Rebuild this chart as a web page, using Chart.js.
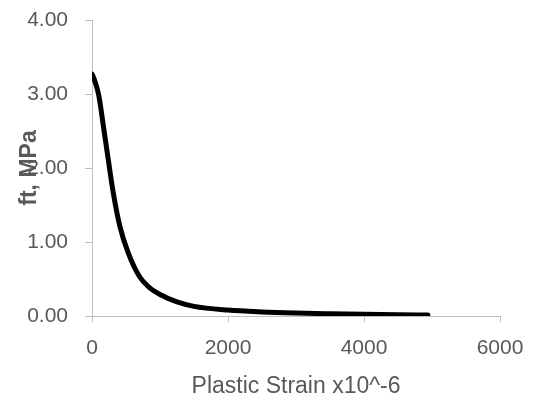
<!DOCTYPE html>
<html>
<head>
<meta charset="utf-8">
<script src="https://cdn.jsdelivr.net/npm/chart.js@4/dist/chart.umd.min.js"></script>
<style>
  html, body { margin: 0; padding: 0; background: #fff; }
  #wrap { width: 533px; height: 398px; }
</style>
</head>
<body>
<div id="wrap"><canvas id="c" width="533" height="398"></canvas></div>
<script>
const strain = [0, 40, 100, 170, 240, 310, 410, 530, 700, 850, 1000, 1250, 1500, 2000, 2500, 3000, 3500, 4000, 4500, 4940];
const ft = [3.27, 3.18, 2.98, 2.55, 2.11, 1.68, 1.21, 0.86, 0.53, 0.38, 0.29, 0.19, 0.13, 0.08, 0.055, 0.04, 0.03, 0.022, 0.016, 0.012];
const xTicks = [0, 2000, 4000, 6000];
const yTicks = [0, 1, 2, 3, 4];
const xTitle = 'Plastic Strain x10^-6';
const yTitle = 'ft, MPa';

const axisColor = '#bfbfbf';
const labelColor = '#595959';
const fontFamily = '"Liberation Sans", Arial, sans-serif';

new Chart(document.getElementById('c'), {
  type: 'line',
  data: {
    datasets: [{
      data: strain.map((x, i) => ({ x: x, y: ft[i] })),
      borderColor: '#000',
      borderWidth: 5,
      pointRadius: 0,
      cubicInterpolationMode: 'monotone',
      borderCapStyle: 'round',
      borderJoinStyle: 'round',
      fill: false
    }]
  },
  options: {
    responsive: false,
    animation: false,
    layout: { autoPadding: false, padding: { left: 0, right: 33, top: 20, bottom: 0 } },
    plugins: { legend: { display: false }, tooltip: { enabled: false } },
    scales: {
      x: {
        type: 'linear',
        min: xTicks[0], max: xTicks[xTicks.length - 1],
        afterBuildTicks: s => { s.ticks = xTicks.map(v => ({ value: v })); },
        afterFit: s => { s.height = 82; s.paddingLeft = 0; s.paddingRight = 0; },
        border: { display: true, color: axisColor, width: 1 },
        grid: { drawOnChartArea: false, drawTicks: true, tickLength: 6, color: axisColor },
        ticks: { color: labelColor, font: { family: fontFamily, size: 21 }, padding: 14, maxRotation: 0, callback: v => String(v) },
        title: { display: true, text: xTitle, color: labelColor, font: { family: fontFamily, size: 23, lineHeight: 1.0 }, padding: 0 }
      },
      y: {
        type: 'linear',
        min: yTicks[0], max: yTicks[yTicks.length - 1],
        afterBuildTicks: s => { s.ticks = yTicks.map(v => ({ value: v })); },
        afterFit: s => { s.width = 92; s.paddingTop = 0; s.paddingBottom = 0; },
        border: { display: true, color: axisColor, width: 1 },
        grid: { drawOnChartArea: false, drawTicks: true, tickLength: 7, color: axisColor },
        ticks: { color: labelColor, font: { family: fontFamily, size: 21 }, padding: 17, callback: v => Number(v).toFixed(2) },
        title: { display: true, text: yTitle, color: labelColor, font: { family: fontFamily, size: 23, weight: 'bold' }, padding: { top: 16, bottom: 0 } }
      }
    }
  }
});
</script>
</body>
</html>
